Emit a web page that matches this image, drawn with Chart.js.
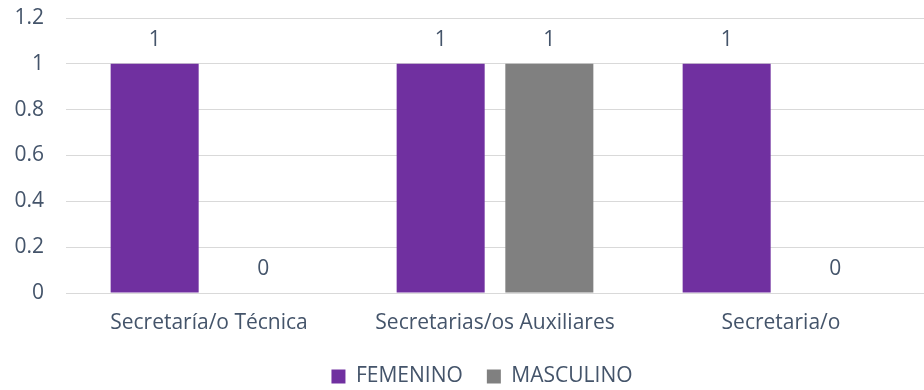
<!DOCTYPE html>
<html>
<head>
<meta charset="utf-8">
<script src="https://cdn.jsdelivr.net/npm/chart.js@4/dist/chart.umd.min.js"></script>
<style>
  html, body { margin: 0; padding: 0; background: #fff; }
  #wrap { width: 924px; height: 390px; }
</style>
</head>
<body>
<div id="wrap"><canvas id="cargoChart" width="924" height="390"></canvas></div>
<script>
const categories = ['Secretaría/o Técnica', 'Secretarias/os Auxiliares', 'Secretaria/o'];
const femenino = [1, 1, 1];
const masculino = [0, 1, 0];
const yTicks = [0, 0.2, 0.4, 0.6, 0.8, 1, 1.2];

const textColor = '#44546A';
const fontFamily = '"Open Sans", sans-serif';
const fontSize = 21;

// writes each bar's value above it
const valueLabels = {
	id: 'valueLabels',
	afterDatasetsDraw(chart) {
		const ctx = chart.ctx;
		ctx.save();
		ctx.font = fontSize + 'px ' + fontFamily;
		ctx.fillStyle = textColor;
		ctx.textAlign = 'center';
		ctx.textBaseline = 'middle';
		chart.data.datasets.forEach((ds, i) => {
			chart.getDatasetMeta(i).data.forEach((bar, j) => {
				ctx.fillText(String(ds.data[j]), bar.x, bar.y - 24);
			});
		});
		ctx.restore();
	}
};

// the legend sits a little right of centre
const legendShift = {
	id: 'legendShift',
	afterLayout(chart) {
		chart.legend.left += 20;
		chart.legend.right += 20;
	}
};

const ctx = document.getElementById('cargoChart').getContext('2d');

let chart = new Chart(ctx, {
	type: 'bar',
	data: {
		labels: categories,
		datasets: [
			{ label: 'FEMENINO', data: femenino, backgroundColor: '#7030A0', categoryPercentage: 0.76, barPercentage: 0.81 },
			{ label: 'MASCULINO', data: masculino, backgroundColor: '#808080', categoryPercentage: 0.76, barPercentage: 0.81 }
		]
	},
	options: {
		responsive: false,
		animation: false,
		layout: { padding: { top: 18, right: 0, bottom: -7, left: 0 } },
		plugins: {
			tooltip: { enabled: false },
			legend: {
				position: 'bottom',
				labels: {
					color: textColor,
					font: { family: fontFamily, size: fontSize },
					boxWidth: 14,
					boxHeight: 14,
					padding: 24
				}
			}
		},
		scales: {
			x: {
				grid: { display: false },
				border: { display: false },
				ticks: { color: textColor, font: { family: fontFamily, size: fontSize }, padding: 9 },
				afterFit(scale) { scale.height = 49; }
			},
			y: {
				min: 0,
				max: 1.2,
				afterBuildTicks(scale) { scale.ticks = yTicks.map(v => ({ value: v })); },
				grid: { color: '#D9D9D9', lineWidth: 1, drawTicks: false },
				border: { display: false },
				ticks: {
					color: textColor,
					font: { family: fontFamily, size: fontSize },
					padding: 22,
					callback: v => String(Number(v.toFixed(1)))
				},
				afterFit(scale) {
					scale.width = 66;
					scale.paddingTop = 0;
					scale.paddingBottom = 0;
				}
			}
		}
	},
	plugins: [valueLabels, legendShift]
});
</script>
</body>
</html>
